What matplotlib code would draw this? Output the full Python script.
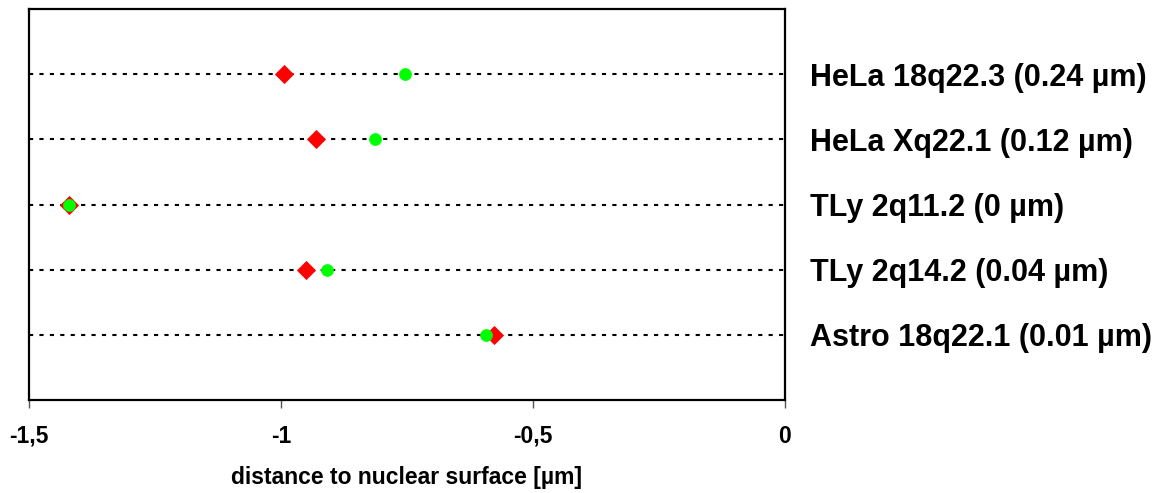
import matplotlib
matplotlib.use("Agg")
import matplotlib.pyplot as plt

plt.rcParams['font.family'] = ['Liberation Sans', 'DejaVu Sans']

labels = ["Astro 18q22.1 (0.01 µm)", "TLy 2q14.2 (0.04 µm)", "TLy 2q11.2 (0 µm)",
          "HeLa Xq22.1 (0.12 µm)", "HeLa 18q22.3 (0.24 µm)"]
red_vals = [-0.577, -0.950, -1.421, -0.931, -0.994]
green_vals = [-0.594, -0.909, -1.421, -0.814, -0.754]
xticks = [-1.5, -1.0, -0.5, 0.0]
xticklabels = ["-1,5", "-1", "-0,5", "0"]
xlabel = "distance to nuclear surface [µm]"

fig = plt.figure(figsize=(11.59, 4.93), dpi=100)
ax = fig.add_axes([29/1159, 1 - 400/493, (785-29)/1159, (400-9)/493])

ypos = list(range(1, len(labels) + 1))
for y in ypos:
    ax.axhline(y, color='black', lw=1.5, linestyle=(0, (2.0, 3.0)), zorder=1)

ax.plot(red_vals, ypos, linestyle='none', marker='D', color='#ff0000',
        markersize=9.4, markeredgewidth=0.6, zorder=3)
ax.plot(green_vals, ypos, linestyle='none', marker='o', color='#00ff00',
        markersize=8.6, markeredgewidth=0.5, zorder=4)

ax.set_xlim(-1.5, 0)
ax.set_ylim(0, 6)
ax.set_xticks(xticks)
ax.set_xticklabels(xticklabels, fontsize=16.5, fontweight='bold')
ax.tick_params(axis='x', direction='out', length=6, width=1, pad=12, color='#555555')

ax.yaxis.tick_right()
ax.set_yticks(ypos)
ax.set_yticklabels(labels, fontsize=22, fontweight='bold')
ax.tick_params(axis='y', length=0, pad=18)

ax.set_xlabel(xlabel, fontsize=16.5, fontweight='bold', labelpad=13)

for s in ax.spines.values():
    s.set_linewidth(1.6)
    s.set_color('black')

fig.savefig("out.png", dpi=100)
